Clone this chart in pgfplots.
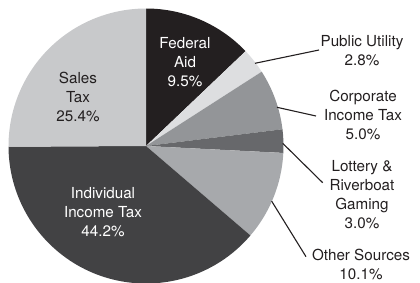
\documentclass[border=0pt]{standalone}
\usepackage{pgfplots}
\pgfplotsset{compat=1.18}
\usepackage{pgfplotstable}
\usepackage{fontspec}
\setmainfont{TeX Gyre Heros}

\definecolor{cFed}{RGB}{35,31,32}
\definecolor{cPub}{RGB}{221,222,224}
\definecolor{cCorp}{RGB}{147,149,152}
\definecolor{cLot}{RGB}{103,104,107}
\definecolor{cOth}{RGB}{167,169,172}
\definecolor{cInd}{RGB}{66,66,68}
\definecolor{cSal}{RGB}{200,201,203}
\definecolor{ink}{RGB}{35,31,32}

% wedge sizes (degrees, clockwise from 12 o'clock) as drawn in the chart
\pgfplotstableread{
name       span   col
Federal    46.4   cFed
Public     10.9   cPub
Corporate  25.7   cCorp
Lottery     9.9   cLot
Other      37.7   cOth
Individual 139.1  cInd
Sales      90.3   cSal
}\piedata

\begin{document}
\begin{tikzpicture}
\begin{axis}[
  x=1pt, y=1pt,
  xmin=0, xmax=420, ymin=0, ymax=282,
  hide axis,
  clip=true,
  at={(0,0)}, anchor=south west,
]
\def\startang{90}
\pgfplotsforeachungrouped \i in {0,...,6}{%
  \pgfplotstablegetelem{\i}{span}\of\piedata
  \pgfmathsetmacro\endang{\startang-\pgfplotsretval}%
  \pgfplotstablegetelem{\i}{col}\of\piedata
  \edef\temp{\noexpand\addplot[fill=\pgfplotsretval, draw=none] coordinates {(146,136)} -- ++(\startang:137.5pt) arc[start angle=\startang, end angle=\endang, radius=137.5pt] -- cycle;}%
  \temp
  \global\let\startang\endang
}

% leader lines
\draw[ink, line width=1.1pt] (axis cs:255,218.7) -- (axis cs:319,232);
\draw[ink, line width=1.1pt] (axis cs:277,174.7) -- (axis cs:316,166);
\draw[ink, line width=1.1pt] (axis cs:282.7,138.7) -- (axis cs:322.7,99.3);
\draw[ink, line width=1.1pt] (axis cs:271.7,80.8) -- (axis cs:306,25.3);

% labels
\tikzset{lbl/.style={align=center, inner sep=0pt, font=\fontsize{15.2}{19}\selectfont}}
\node[lbl, text=white] at (axis cs:185,220) {Federal\\Aid\\9.5\%};
\node[lbl, text=ink] at (axis cs:78,185) {Sales\\Tax\\25.4\%};
\node[lbl, text=white] at (axis cs:103,70) {Individual\\Income Tax\\44.2\%};
\node[lbl, text=ink] at (axis cs:362,231) {Public Utility\\2.8\%};
\node[lbl, text=ink] at (axis cs:363,167.5) {Corporate\\Income Tax\\5.0\%};
\node[lbl, text=ink] at (axis cs:362,87.5) {Lottery \&\\Riverboat\\Gaming\\3.0\%};
\node[lbl, text=ink] at (axis cs:361,18) {Other Sources\\10.1\%};
\end{axis}
\pgfresetboundingbox
\path[use as bounding box] (0,0) rectangle (420pt,282pt);
\end{tikzpicture}
\end{document}
